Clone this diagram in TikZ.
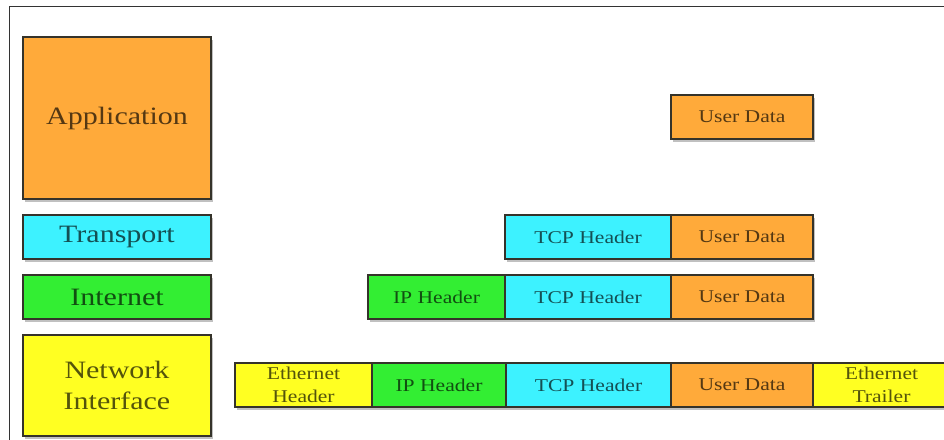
\documentclass[tikz,border=0pt]{standalone}
\usepackage{fontspec}
\usepackage{graphicx}
\setmainfont{Liberation Serif}
\usetikzlibrary{shadows}
\definecolor{orangefill}{HTML}{FFAA3A}
\definecolor{cyanfill}{HTML}{3DF2FF}
\definecolor{greenfill}{HTML}{33EE33}
\definecolor{yellowfill}{HTML}{FFFF22}
\definecolor{edgecol}{HTML}{35332A}
\definecolor{framecol}{HTML}{333333}
\newcommand\wide[1]{\scalebox{1.2}[1]{#1}}
\tikzset{
  blk/.style={draw=edgecol, line width=2pt, rectangle, inner sep=0pt,
    drop shadow={shadow xshift=2pt, shadow yshift=-3pt, opacity=0.35, fill=black!70}},
  layerbox/.style={blk, minimum width=188pt, font=\fontsize{25}{31}\selectfont, align=center},
  segbox/.style={blk, minimum height=44pt, font=\fontsize{18}{23}\selectfont, align=center},
  twoline/.style={text depth=2pt},
  orangebox/.style={fill=orangefill, text=orangefill!33!black},
  cyanbox/.style={fill=cyanfill, text=cyanfill!33!black},
  greenbox/.style={fill=greenfill, text=greenfill!33!black},
  yellowbox/.style={fill=yellowfill, text=yellowfill!33!black},
}
\begin{document}
\begin{tikzpicture}[x=1pt,y=-1pt]
\useasboundingbox (0,0) rectangle (944,439);
\begin{scope}
\clip (0,0) rectangle (944,439);
\fill[white] (0,0) rectangle (944,439);
\draw[framecol, line width=1pt] (9,450) -- (9,6.5) -- (950,6.5);
% layer boxes
\node[layerbox, orangebox, minimum height=162pt] (app) at (117,118) {\wide{Application}};
\node[layerbox, cyanbox, minimum height=44pt] (trn) at (117,237) {\wide{Transport}};
\node[layerbox, greenbox, minimum height=44pt] (inet) at (117,297) {\wide{Internet}};
\node[layerbox, yellowbox, minimum height=101pt] (nif) at (117,385.5) {\wide{Network}\\\wide{Interface}};
% application row
\node[segbox, orangebox, minimum width=142pt] (ud0) at (742,117) {\wide{User Data}};
% transport row
\node[segbox, cyanbox, minimum width=166pt] (tcp1) at (588,237) {\wide{TCP Header}};
\node[segbox, orangebox, minimum width=142pt] (ud1) at (742,237) {\wide{User Data}};
% internet row
\node[segbox, greenbox, minimum width=137pt] (ip2) at (436.5,297) {\wide{IP Header}};
\node[segbox, cyanbox, minimum width=166pt] (tcp2) at (588,297) {\wide{TCP Header}};
\node[segbox, orangebox, minimum width=142pt] (ud2) at (742,297) {\wide{User Data}};
% network interface row
\node[segbox, yellowbox, minimum width=137pt] (eh) at (303.5,385) {\wide{Ethernet}\\\wide{Header}};
\node[segbox, greenbox, minimum width=134pt] (ip3) at (439,385) {\wide{IP Header}};
\node[segbox, cyanbox, minimum width=165pt] (tcp3) at (588.5,385) {\wide{TCP Header}};
\node[segbox, orangebox, minimum width=142pt] (ud3) at (742,385) {\wide{User Data}};
\node[segbox, yellowbox, minimum width=137pt] (et) at (881.5,385) {\wide{Ethernet}\\\wide{Trailer}};
\end{scope}
\end{tikzpicture}
\end{document}
